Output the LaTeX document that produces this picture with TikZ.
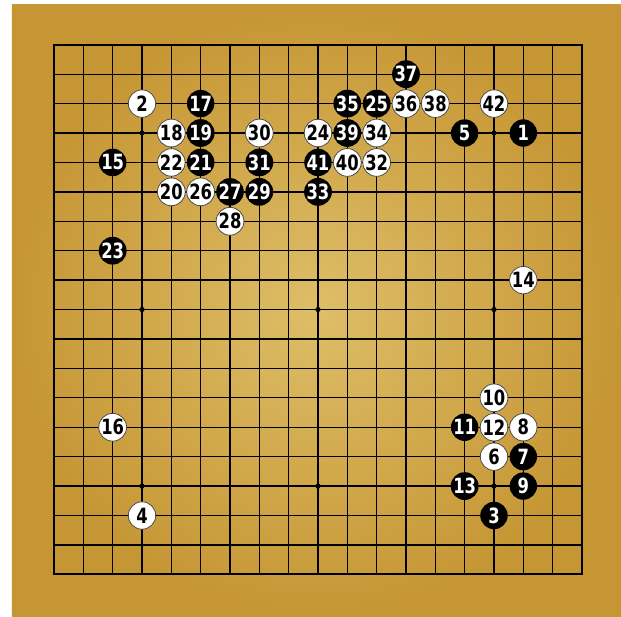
\documentclass[tikz,border=0pt]{standalone}
\usepackage{fontspec}
\newfontfamily\stonefont{DejaVu Sans}[FakeStretch=0.78]
\usetikzlibrary{positioning}
\definecolor{parchmentlight}{RGB}{222,190,104}
\definecolor{parchmentdark}{RGB}{198,150,52}
\begin{document}
\begin{tikzpicture}[x=29.33pt,y=-29.42pt,
  stone/.style={circle,minimum size=27.4pt,inner sep=0pt,
    font={\stonefont\bfseries\fontsize{21pt}{21pt}\selectfont}},
  bstone/.style={stone,fill=black,text=white},
  wstone/.style={stone,fill=white,draw=black!70,line width=0.8pt,text=black}]
  % page with white margin top and left
  \fill[white] (-1.841,-1.521) rectangle (19.33,19.417);
  \useasboundingbox (-1.841,-1.521) rectangle (19.33,19.417);
  % parchment
  \shade[inner color=parchmentlight,outer color=parchmentdark]
    (-1.432,-1.351) rectangle (19.33,19.417);
  % grid
  \foreach \i in {0,...,18}{
    \draw[line width=1.3pt] (\i,0) -- (\i,18);
    \draw[line width=1.3pt] (0,\i) -- (18,\i);
  }
  \draw[line width=1.9pt] (0,0) rectangle (18,18);
  % star points
  \foreach \x in {3,9,15}
    \foreach \y in {3,9,15}
      \fill (\x,\y) circle (2.6pt);
  % stones: column/row/move
  \foreach \c/\r/\n in {16/3/1,15/16/3,14/3/5,16/14/7,16/15/9,14/13/11,
      14/15/13,2/4/15,5/2/17,5/3/19,5/4/21,2/7/23,11/2/25,6/5/27,7/5/29,
      7/4/31,9/5/33,10/2/35,12/1/37,10/3/39,9/4/41}
    \node[bstone] (m\n) at (\c,\r) {\n};
  \foreach \c/\r/\n in {3/2/2,3/16/4,15/14/6,16/13/8,15/12/10,15/13/12,
      16/8/14,2/13/16,4/3/18,4/5/20,4/4/22,9/3/24,5/5/26,6/6/28,7/3/30,
      11/4/32,11/3/34,12/2/36,13/2/38,10/4/40,15/2/42}
    \node[wstone] (m\n) at (\c,\r) {\n};
\end{tikzpicture}
\end{document}
